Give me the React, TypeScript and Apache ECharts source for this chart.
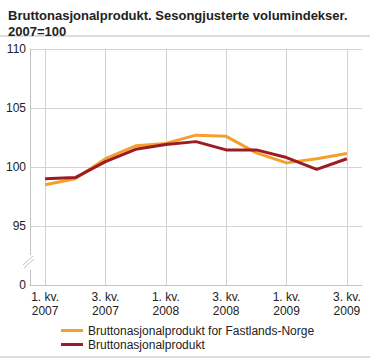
import React, { useEffect, useRef } from "react";
import * as echarts from "echarts";

const categories = [
  "1. kv.\n2007", "2. kv.\n2007", "3. kv.\n2007", "4. kv.\n2007",
  "1. kv.\n2008", "2. kv.\n2008", "3. kv.\n2008", "4. kv.\n2008",
  "1. kv.\n2009", "2. kv.\n2009", "3. kv.\n2009",
];
const fastlands = [98.5, 99.0, 100.7, 101.8, 102.0, 102.7, 102.6, 101.2, 100.35, 100.7, 101.15];
const brutto = [99.0, 99.1, 100.45, 101.5, 101.9, 102.15, 101.45, 101.45, 100.8, 99.8, 100.7];
const seriesNames = ["Bruttonasjonalprodukt for Fastlands-Norge", "Bruttonasjonalprodukt"];
const yTickLabels: Record<number, string> = { 90: "0", 95: "95", 100: "100", 105: "105", 110: "110" };

const FONT = "Liberation Sans, Arial, sans-serif";
const GRID = "#d2d2d2";

export default function App() {
  const ref = useRef<HTMLDivElement>(null);
  useEffect(() => {
    if (!ref.current) return;
    const chart = echarts.init(ref.current, null, { renderer: "svg" });
    chart.setOption({
      animation: false,
      textStyle: { fontFamily: FONT },
      title: {
        text: "Bruttonasjonalprodukt. Sesongjusterte volumindekser.\n2007=100",
        left: 3,
        top: 2,
        textStyle: { fontFamily: FONT, fontSize: 13, fontWeight: "bold", color: "#222", lineHeight: 16 },
      },
      grid: { left: 30, right: 8, top: 49, bottom: 74, containLabel: false },
      legend: {
        orient: "vertical",
        left: 56,
        top: 319,
        itemGap: 1,
        itemWidth: 22,
        itemHeight: 3,
        icon: "rect",
        textStyle: { fontFamily: FONT, fontSize: 12, color: "#222", lineHeight: 13 },
        data: seriesNames,
      },
      xAxis: {
        type: "category",
        data: categories,
        boundaryGap: true,
        axisLine: { show: true, lineStyle: { color: "#c4c4c4", width: 1 } },
        axisTick: { show: false, alignWithLabel: true },
        splitLine: { show: true, alignWithLabel: true, lineStyle: { color: GRID, width: 1 } },
        axisLabel: {
          interval: 1,
          margin: 5,
          fontFamily: FONT,
          fontSize: 12,
          lineHeight: 14,
          color: "#222",
        },
      },
      yAxis: {
        type: "value",
        min: 90,
        max: 110,
        interval: 5,
        axisLine: { show: true, lineStyle: { color: "#c4c4c4", width: 1 } },
        axisTick: { show: false },
        splitLine: { show: true, lineStyle: { color: GRID, width: 1 } },
        axisLabel: {
          margin: 4,
          fontFamily: FONT,
          fontSize: 12,
          color: "#222",
          formatter: (v: number) => yTickLabels[v] ?? "",
        },
      },
      series: [
        {
          name: seriesNames[0],
          type: "line",
          data: fastlands,
          symbol: "none",
          lineStyle: { color: "#f5a02c", width: 3 },
          itemStyle: { color: "#f5a02c" },
        },
        {
          name: seriesNames[1],
          type: "line",
          data: brutto,
          symbol: "none",
          lineStyle: { color: "#9c1c23", width: 3 },
          itemStyle: { color: "#9c1c23" },
        },
      ],
      graphic: [
        { type: "line", shape: { x1: 0, y1: 36, x2: 370, y2: 36 }, style: { stroke: "#bdbdbd", lineWidth: 1 } },
        { type: "line", shape: { x1: 0, y1: 357, x2: 370, y2: 357 }, style: { stroke: "#bdbdbd", lineWidth: 1 } },
        { type: "rect", shape: { x: 27, y: 255, width: 6, height: 15 }, style: { fill: "#fff" }, z: 100 },
        { type: "line", shape: { x1: 23, y1: 265, x2: 33, y2: 256 }, style: { stroke: "#c4c4c4", lineWidth: 1 }, z: 101 },
        { type: "line", shape: { x1: 24, y1: 268, x2: 34, y2: 259 }, style: { stroke: "#c4c4c4", lineWidth: 1 }, z: 101 },
      ],
    });
    return () => chart.dispose();
  }, []);
  return <div ref={ref} style={{ width: 370, height: 359, position: "absolute", left: 0, top: 0 }} />;
}
